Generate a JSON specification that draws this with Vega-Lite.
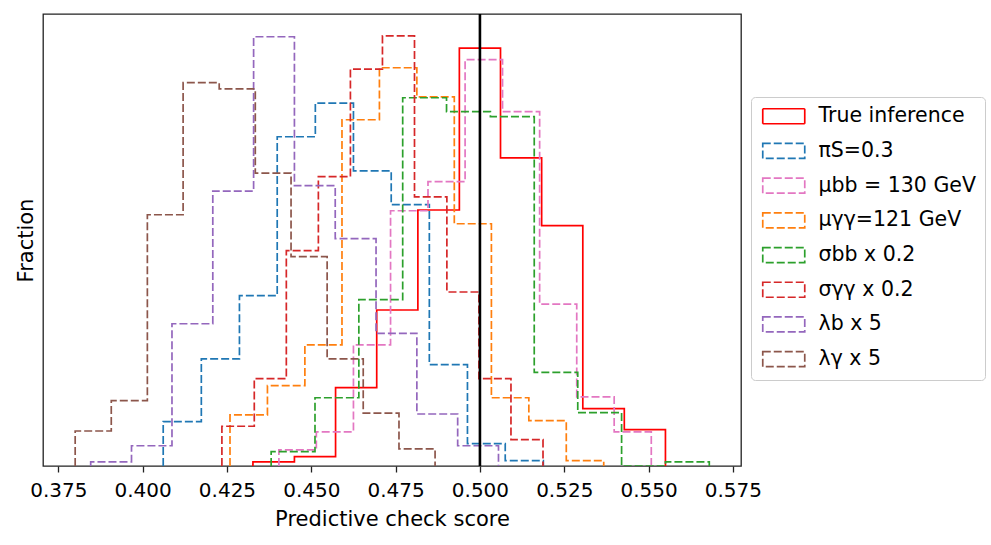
{
  "$schema": "https://vega.github.io/schema/vega-lite/v6.json",
  "width": 698,
  "height": 452,
  "autosize": "none",
  "padding": {"left": 43, "top": 14, "right": 250, "bottom": 79},
  "background": "white",
  "config": {
    "font": "DejaVu Sans",
    "view": {"stroke": "#222", "strokeWidth": 1.3},
    "axis": {"domain": false, "grid": false}
  },
  "datasets": {
    "hist": [
      {"s":"True inference","i":0,"x":0.4327,"y":0},
      {"s":"True inference","i":1,"x":0.4327,"y":0.22},
      {"s":"True inference","i":2,"x":0.4450,"y":0.49},
      {"s":"True inference","i":3,"x":0.4572,"y":4.10},
      {"s":"True inference","i":4,"x":0.4694,"y":8.16},
      {"s":"True inference","i":5,"x":0.4816,"y":13.39},
      {"s":"True inference","i":6,"x":0.4939,"y":21.86},
      {"s":"True inference","i":7,"x":0.5061,"y":16.12},
      {"s":"True inference","i":8,"x":0.5183,"y":12.57},
      {"s":"True inference","i":9,"x":0.5305,"y":3.00},
      {"s":"True inference","i":10,"x":0.5428,"y":1.90},
      {"s":"True inference","i":11,"x":0.5550,"y":1.90},
      {"s":"True inference","i":12,"x":0.5550,"y":0},

      {"s":"πS=0.3","i":0,"x":0.4061,"y":0},
      {"s":"πS=0.3","i":1,"x":0.4061,"y":2.32},
      {"s":"πS=0.3","i":2,"x":0.4174,"y":5.60},
      {"s":"πS=0.3","i":3,"x":0.4287,"y":8.91},
      {"s":"πS=0.3","i":4,"x":0.4399,"y":17.22},
      {"s":"πS=0.3","i":5,"x":0.4512,"y":18.98},
      {"s":"πS=0.3","i":6,"x":0.4625,"y":15.44},
      {"s":"πS=0.3","i":7,"x":0.4737,"y":13.67},
      {"s":"πS=0.3","i":8,"x":0.4850,"y":5.30},
      {"s":"πS=0.3","i":9,"x":0.4963,"y":1.17},
      {"s":"πS=0.3","i":10,"x":0.5075,"y":0.28},
      {"s":"πS=0.3","i":11,"x":0.5188,"y":0.28},
      {"s":"πS=0.3","i":12,"x":0.5188,"y":0},

      {"s":"μbb = 130 GeV","i":0,"x":0.4404,"y":0},
      {"s":"μbb = 130 GeV","i":1,"x":0.4404,"y":0.84},
      {"s":"μbb = 130 GeV","i":2,"x":0.4515,"y":1.79},
      {"s":"μbb = 130 GeV","i":3,"x":0.4625,"y":6.34},
      {"s":"μbb = 130 GeV","i":4,"x":0.4735,"y":13.35},
      {"s":"μbb = 130 GeV","i":5,"x":0.4846,"y":14.87},
      {"s":"μbb = 130 GeV","i":6,"x":0.4956,"y":21.25},
      {"s":"μbb = 130 GeV","i":7,"x":0.5067,"y":18.53},
      {"s":"μbb = 130 GeV","i":8,"x":0.5177,"y":8.47},
      {"s":"μbb = 130 GeV","i":9,"x":0.5287,"y":3.62},
      {"s":"μbb = 130 GeV","i":10,"x":0.5398,"y":1.79},
      {"s":"μbb = 130 GeV","i":11,"x":0.5508,"y":1.79},
      {"s":"μbb = 130 GeV","i":12,"x":0.5508,"y":0},

      {"s":"μγγ=121 GeV","i":0,"x":0.4259,"y":0},
      {"s":"μγγ=121 GeV","i":1,"x":0.4259,"y":2.67},
      {"s":"μγγ=121 GeV","i":2,"x":0.4370,"y":4.20},
      {"s":"μγγ=121 GeV","i":3,"x":0.4481,"y":6.34},
      {"s":"μγγ=121 GeV","i":4,"x":0.4591,"y":18.11},
      {"s":"μγγ=121 GeV","i":5,"x":0.4702,"y":20.83},
      {"s":"μγγ=121 GeV","i":6,"x":0.4813,"y":19.31},
      {"s":"μγγ=121 GeV","i":7,"x":0.4924,"y":12.67},
      {"s":"μγγ=121 GeV","i":8,"x":0.5034,"y":3.57},
      {"s":"μγγ=121 GeV","i":9,"x":0.5145,"y":2.37},
      {"s":"μγγ=121 GeV","i":10,"x":0.5256,"y":0.28},
      {"s":"μγγ=121 GeV","i":11,"x":0.5367,"y":0.28},
      {"s":"μγγ=121 GeV","i":12,"x":0.5367,"y":0},

      {"s":"σbb x 0.2","i":0,"x":0.4381,"y":0},
      {"s":"σbb x 0.2","i":1,"x":0.4381,"y":0.75},
      {"s":"σbb x 0.2","i":2,"x":0.4511,"y":3.57},
      {"s":"σbb x 0.2","i":3,"x":0.4641,"y":8.70},
      {"s":"σbb x 0.2","i":4,"x":0.4771,"y":19.26},
      {"s":"σbb x 0.2","i":5,"x":0.4901,"y":18.53},
      {"s":"σbb x 0.2","i":6,"x":0.5031,"y":18.27},
      {"s":"σbb x 0.2","i":7,"x":0.5161,"y":4.90},
      {"s":"σbb x 0.2","i":8,"x":0.5290,"y":2.79},
      {"s":"σbb x 0.2","i":9,"x":0.5420,"y":0},
      {"s":"σbb x 0.2","i":10,"x":0.5550,"y":0.22},
      {"s":"σbb x 0.2","i":11,"x":0.5680,"y":0.22},
      {"s":"σbb x 0.2","i":12,"x":0.5680,"y":0},

      {"s":"σγγ x 0.2","i":0,"x":0.4235,"y":0},
      {"s":"σγγ x 0.2","i":1,"x":0.4235,"y":2.08},
      {"s":"σγγ x 0.2","i":2,"x":0.4331,"y":4.57},
      {"s":"σγγ x 0.2","i":3,"x":0.4426,"y":11.26},
      {"s":"σγγ x 0.2","i":4,"x":0.4521,"y":15.13},
      {"s":"σγγ x 0.2","i":5,"x":0.4616,"y":20.76},
      {"s":"σγγ x 0.2","i":6,"x":0.4711,"y":22.50},
      {"s":"σγγ x 0.2","i":7,"x":0.4806,"y":14.08},
      {"s":"σγγ x 0.2","i":8,"x":0.4902,"y":9.10},
      {"s":"σγγ x 0.2","i":9,"x":0.4997,"y":4.57},
      {"s":"σγγ x 0.2","i":10,"x":0.5092,"y":1.38},
      {"s":"σγγ x 0.2","i":11,"x":0.5187,"y":1.38},
      {"s":"σγγ x 0.2","i":12,"x":0.5187,"y":0},

      {"s":"λb x 5","i":0,"x":0.3846,"y":0},
      {"s":"λb x 5","i":1,"x":0.3846,"y":0.22},
      {"s":"λb x 5","i":2,"x":0.3967,"y":1.06},
      {"s":"λb x 5","i":3,"x":0.4087,"y":7.44},
      {"s":"λb x 5","i":4,"x":0.4208,"y":14.38},
      {"s":"λb x 5","i":5,"x":0.4329,"y":22.45},
      {"s":"λb x 5","i":6,"x":0.4450,"y":14.66},
      {"s":"λb x 5","i":7,"x":0.4571,"y":11.89},
      {"s":"λb x 5","i":8,"x":0.4692,"y":6.94},
      {"s":"λb x 5","i":9,"x":0.4813,"y":2.72},
      {"s":"λb x 5","i":10,"x":0.4934,"y":1.06},
      {"s":"λb x 5","i":11,"x":0.5055,"y":1.06},
      {"s":"λb x 5","i":12,"x":0.5055,"y":0},

      {"s":"λγ x 5","i":0,"x":0.3800,"y":0},
      {"s":"λγ x 5","i":1,"x":0.3800,"y":1.83},
      {"s":"λγ x 5","i":2,"x":0.3907,"y":3.42},
      {"s":"λγ x 5","i":3,"x":0.4014,"y":13.14},
      {"s":"λγ x 5","i":4,"x":0.4120,"y":20.05},
      {"s":"λγ x 5","i":5,"x":0.4227,"y":19.72},
      {"s":"λγ x 5","i":6,"x":0.4334,"y":15.32},
      {"s":"λγ x 5","i":7,"x":0.4440,"y":10.95},
      {"s":"λγ x 5","i":8,"x":0.4547,"y":5.60},
      {"s":"λγ x 5","i":9,"x":0.4654,"y":2.77},
      {"s":"λγ x 5","i":10,"x":0.4760,"y":0.90},
      {"s":"λγ x 5","i":11,"x":0.4867,"y":0.90},
      {"s":"λγ x 5","i":12,"x":0.4867,"y":0}
    ],
    "ref": [{"x": 0.5}]
  },
  "layer": [
    {
      "data": {"name": "hist"},
      "mark": {"type": "line", "interpolate": "step-after", "strokeWidth": 1.7, "clip": true},
      "encoding": {
        "x": {
          "field": "x", "type": "quantitative",
          "scale": {"domain": [0.37046, 0.5774], "nice": false, "zero": false},
          "axis": {
            "values": [0.375, 0.4, 0.425, 0.45, 0.475, 0.5, 0.525, 0.55, 0.575],
            "format": ".3f",
            "labelFontSize": 20,
            "labelColor": "black",
            "labelPadding": 8,
            "labelFlush": false,
            "tickSize": 6,
            "tickWidth": 1.3,
            "tickColor": "#222",
            "title": "Predictive check score",
            "titleFontSize": 21,
            "titleFontWeight": "normal",
            "titleColor": "black",
            "titlePadding": 8
          }
        },
        "y": {
          "field": "y", "type": "quantitative",
          "scale": {"domain": [0, 23.64], "nice": false},
          "axis": {
            "ticks": false, "labels": false,
            "title": "Fraction",
            "titleFontSize": 21,
            "titleFontWeight": "normal",
            "titleColor": "black",
            "titlePadding": 7
          }
        },
        "order": {"field": "i", "type": "quantitative"},
        "color": {
          "field": "s", "type": "nominal",
          "scale": {
            "domain": ["True inference", "πS=0.3", "μbb = 130 GeV", "μγγ=121 GeV", "σbb x 0.2", "σγγ x 0.2", "λb x 5", "λγ x 5"],
            "range": ["#ff0000", "#1f77b4", "#e377c2", "#ff7f0e", "#2ca02c", "#d62728", "#9467bd", "#8c564b"]
          },
          "legend": {
            "title": null,
            "orient": "none",
            "legendX": 708,
            "legendY": 83,
            "padding": 9,
            "rowPadding": 11.7,
            "strokeColor": "#cccccc",
            "fillColor": "white",
            "cornerRadius": 4,
            "symbolType": "M-1,-1H4.6V1H-1Z",
            "symbolSize": 225,
            "symbolStrokeWidth": 1.7,
            "symbolFillColor": "transparent",
            "labelFontSize": 20.5,
            "labelColor": "black",
            "labelOffset": 38,
            "labelLimit": 300
          }
        },
        "strokeDash": {
          "field": "s", "type": "nominal",
          "scale": {
            "domain": ["True inference", "πS=0.3", "μbb = 130 GeV", "μγγ=121 GeV", "σbb x 0.2", "σγγ x 0.2", "λb x 5", "λγ x 5"],
            "range": [[1, 0], [8, 3], [8, 3], [8, 3], [8, 3], [8, 3], [8, 3], [8, 3]]
          },
          "legend": {
            "title": null,
            "orient": "none",
            "legendX": 708,
            "legendY": 83
          }
        }
      }
    },
    {
      "data": {"name": "ref"},
      "mark": {"type": "rule", "color": "black", "strokeWidth": 2.6},
      "encoding": {"x": {"field": "x", "type": "quantitative"}}
    }
  ]
}
